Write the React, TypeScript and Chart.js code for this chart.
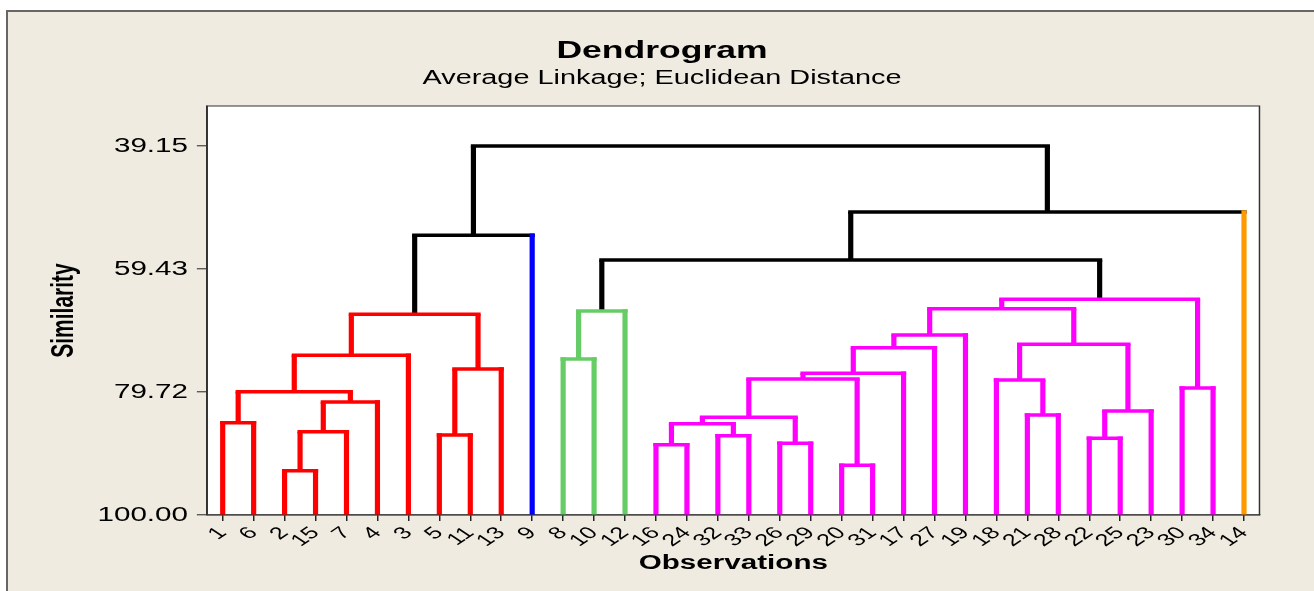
import React, { useEffect, useRef } from 'react';
import { Chart, registerables } from 'chart.js';

Chart.register(...registerables);

// ---------- data ----------
const leafLabels = ['1', '6', '2', '15', '7', '4', '3', '5', '11', '13', '9', '8', '10', '12', '16', '24', '32', '33', '26', '29', '20', '31', '17', '27', '19', '18', '21', '28', '22', '25', '23', '30', '34', '14'];
// cluster index of each leaf (0 red, 1 blue, 2 green, 3 magenta, 4 orange)
const leafCluster = [0, 0, 0, 0, 0, 0, 0, 0, 0, 0, 1, 2, 2, 2, 3, 3, 3, 3, 3, 3, 3, 3, 3, 3, 3, 3, 3, 3, 3, 3, 3, 3, 3, 4];
const clusterColors = ['#FF0000', '#0000FF', '#66CC66', '#FF00FF', '#FF9900'];
const linkColor = '#000000';

// merges: node ids 0..33 are leaves (by position), merge k creates node 34 + k
const mergeLeft = [2, 20, 14, 18, 28, 16, 7, 34, 36, 0, 42, 26, 38, 41, 43, 31, 25, 44, 51, 40, 11, 48, 52, 50, 56, 55, 54, 58, 61, 60, 59, 63, 64];
const mergeRight = [3, 21, 15, 19, 29, 17, 8, 4, 39, 1, 37, 27, 30, 5, 47, 32, 45, 35, 22, 9, 12, 6, 23, 46, 24, 53, 13, 57, 49, 62, 10, 33, 65];
const mergeSimilarity = [92.69, 91.81, 88.4, 88.18, 87.36, 86.92, 86.81, 86.26, 84.94, 84.78, 83.9, 83.51, 82.85, 81.37, 79.66, 79.06, 77.74, 77.57, 76.64, 75.92, 74.28, 73.67, 72.41, 71.86, 70.32, 66.91, 66.36, 65.97, 64.43, 57.95, 53.88, 50.03, 39.15];
const mergeCluster = [0, 3, 3, 3, 3, 3, 0, 0, 3, 0, 3, 3, 3, 0, 0, 3, 3, 3, 3, 0, 2, 0, 3, 3, 3, 0, 2, 3, 3, -1, -1, -1, -1];

const yTickValues = [39.15, 59.43, 79.72, 100];
const yMin = 32.55;
const yMax = 100;

// ---------- layout ----------
const PAGE_W = 1314;
const PAGE_H = 591;
const CANVAS_W = 888;
const STRETCH = PAGE_W / CANVAS_W;
const FONT = "'Liberation Sans', Arial, Helvetica, sans-serif";

function buildDatasets() {
  const n = leafLabels.length;
  const nodeX: number[] = leafLabels.map((_, i) => i);
  const nodeY: number[] = leafLabels.map(() => yMax);
  mergeLeft.forEach((l, k) => {
    nodeX.push((nodeX[l] + nodeX[mergeRight[k]]) / 2);
    nodeY.push(mergeSimilarity[k]);
  });
  const colorOf = (k: number) => (mergeCluster[k] >= 0 ? clusterColors[mergeCluster[k]] : linkColor);
  const seg = (pts: { x: number; y: number }[], color: string, kind: 'leaf' | 'bar' | 'stem') => ({
    type: 'line' as const,
    data: pts,
    borderColor: color,
    backgroundColor: color,
    borderWidth: 3.5,
    borderCapStyle: kind === 'stem' ? 'butt' : 'square',
    pointRadius: 0,
    pointHoverRadius: 0,
    fill: false,
    tension: 0,
    clip: 0,
    order: kind === 'leaf' ? 0 : kind === 'bar' ? 1 : 2,
  });
  const ds: any[] = [];
  mergeLeft.forEach((l, k) => {
    const r = mergeRight[k];
    const h = mergeSimilarity[k];
    const c = colorOf(k);
    [l, r].forEach((child) => {
      const leaf = child < n;
      ds.push(
        seg(
          [
            { x: nodeX[child], y: nodeY[child] },
            { x: nodeX[child], y: h },
          ],
          leaf ? clusterColors[leafCluster[child]] : c,
          leaf ? 'leaf' : 'stem'
        )
      );
    });
    ds.push(
      seg(
        [
          { x: nodeX[l], y: h },
          { x: nodeX[r], y: h },
        ],
        c,
        'bar'
      )
    );
  });
  return ds;
}

const stretchPlugin = {
  id: 'stretchAndFrame',
  beforeDraw(chart: any) {
    const ctx = chart.ctx as CanvasRenderingContext2D;
    ctx.save();
    ctx.setTransform(STRETCH, 0, 0, 1, 0, 0);
    const { left, top, right, bottom } = chart.chartArea;
    ctx.fillStyle = '#FFFFFF';
    ctx.fillRect(left, top, right - left, bottom - top);
  },
  afterDraw(chart: any) {
    const ctx = chart.ctx as CanvasRenderingContext2D;
    const { left, top, right, bottom } = chart.chartArea;
    ctx.strokeStyle = '#333333';
    ctx.lineWidth = 1;
    ctx.strokeRect(left, top, right - left, bottom - top);
    ctx.restore();
  },
};

export default function App() {
  const ref = useRef<HTMLCanvasElement>(null);

  useEffect(() => {
    if (!ref.current) return;
    const chart = new Chart(ref.current, {
      type: 'line',
      data: { datasets: buildDatasets() },
      plugins: [stretchPlugin],
      options: {
        responsive: false,
        animation: false,
        devicePixelRatio: STRETCH,
        events: [],
        layout: { padding: { left: 6.8, right: 0, top: 0, bottom: 0 } },
        plugins: {
          legend: { display: false },
          tooltip: { enabled: false },
          title: {
            display: true,
            text: 'Dendrogram',
            color: '#000',
            font: { family: FONT, size: 24, weight: 'bold', lineHeight: 1.2 },
            padding: { top: 37.3, bottom: 0 },
          },
          subtitle: {
            display: true,
            text: 'Average Linkage; Euclidean Distance',
            color: '#000',
            font: { family: FONT, size: 19.5, weight: 'normal', lineHeight: 1.2 },
            padding: { top: 1.1, bottom: 15.4 },
          },
        },
        scales: {
          x: {
            type: 'linear',
            min: -0.5,
            max: leafLabels.length - 0.5,
            afterBuildTicks: (scale: any) => {
              scale.ticks = leafLabels.map((_, i) => ({ value: i }));
            },
            afterFit: (scale: any) => {
              scale.height = 76;
            },
            ticks: {
              autoSkip: false,
              minRotation: 45,
              maxRotation: 45,
              padding: 2,
              color: '#000',
              font: { family: FONT, size: 17 },
              callback: (v: any) => leafLabels[Number(v)] ?? '',
            },
            grid: { drawOnChartArea: false, drawTicks: true, tickLength: 6, color: '#222', lineWidth: 1 },
            border: { display: true, color: '#333', width: 1 },
            title: {
              display: true,
              text: 'Observations',
              color: '#000',
              font: { family: FONT, size: 20, weight: 'bold', lineHeight: 1.2 },
              padding: { top: 0, bottom: 15.2 },
            },
          },
          y: {
            type: 'linear',
            reverse: true,
            min: yMin,
            max: yMax,
            afterBuildTicks: (scale: any) => {
              scale.ticks = yTickValues.map((v) => ({ value: v }));
            },
            afterFit: (scale: any) => {
              scale.width = 133.24;
            },
            ticks: {
              padding: 6,
              color: '#000',
              font: { family: FONT, size: 20 },
              callback: (v: any) => Number(v).toFixed(2),
            },
            grid: { drawOnChartArea: false, drawTicks: true, tickLength: 7, color: '#222', lineWidth: 1 },
            border: { display: true, color: '#333', width: 1 },
            title: {
              display: true,
              text: 'Similarity',
              color: '#000',
              font: { family: FONT, size: 21, weight: 'bold', lineHeight: 1.2 },
              padding: { top: 24, bottom: 0 },
            },
          },
          yR: {
            type: 'linear',
            position: 'right',
            display: true,
            grid: { display: false },
            ticks: { display: false },
            border: { display: false },
            afterFit: (scale: any) => {
              scale.width = 36.85;
            },
          },
        },
      } as any,
    });
    return () => chart.destroy();
  }, []);

  return (
    <div
      style={{
        position: 'fixed',
        left: 0,
        top: 0,
        width: PAGE_W,
        height: PAGE_H,
        overflow: 'hidden',
        background: '#FFFFFF',
      }}
    >
      <div
        style={{
          position: 'absolute',
          left: 6,
          top: 10,
          width: PAGE_W,
          height: PAGE_H,
          background: '#EFEBE0',
          borderLeft: '2px solid #666',
          borderTop: '2px solid #666',
          boxSizing: 'border-box',
        }}
      />
      <canvas
        ref={ref}
        width={CANVAS_W}
        height={PAGE_H}
        style={{
          position: 'absolute',
          left: 0,
          top: 0,
          width: `${PAGE_W}px`,
          height: `${Math.floor(PAGE_H * STRETCH)}px`,
          display: 'block',
        }}
      />
    </div>
  );
}
